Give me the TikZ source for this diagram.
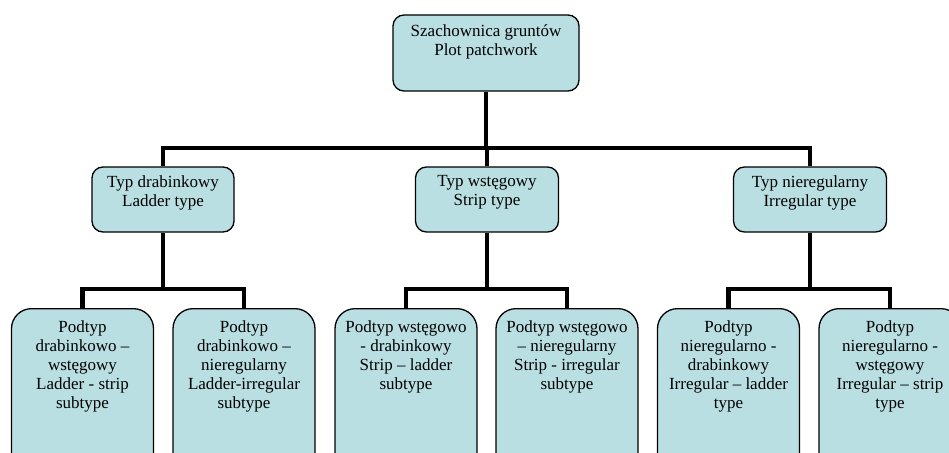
\documentclass[tikz,border=0pt]{standalone}
\usepackage{fontspec}
\setmainfont{Liberation Serif}
\definecolor{boxfill}{HTML}{B9DFE3}
\begin{document}
\begin{tikzpicture}[x=1pt,y=-1pt,
  box/.style={draw=black, line width=1.3pt, fill=boxfill, rounded corners=#1, inner sep=0pt},
  box/.default=11pt,
  txt/.style={anchor=north, align=center, inner sep=0pt, font=\fontsize{17}{19}\selectfont},
  conn/.style={line width=4.5pt}]
\useasboundingbox (0,0) rectangle (949,452);
\clip (0,0) rectangle (949,452);
% top
\node[box, minimum width=186pt, minimum height=76pt] (r) at (486,53) {};
\node[txt] at ([yshift=-10pt]r.north) {Szachownica gruntów\\Plot patchwork};
% level 2
\node[box, minimum width=142pt, minimum height=65pt] (a) at (163,199.5) {};
\node[box, minimum width=143pt, minimum height=65pt] (b) at (487,199.5) {};
\node[box, minimum width=153pt, minimum height=65pt] (c) at (810,199.5) {};
\node[txt] at ([yshift=-9pt]a.north) {Typ drabinkowy\\Ladder type};
\node[txt] at ([yshift=-9pt]b.north) {Typ wstęgowy\\Strip type};
\node[txt] at ([yshift=-9pt]c.north) {Typ nieregularny\\Irregular type};
% level 3
\foreach \n/\x in {a1/82.5, a2/244, b1/406, b2/567, c1/728.5, c2/890}
  \node[box=20pt, minimum width=142pt, minimum height=170pt, anchor=north] (\n) at (\x,308) {};
\node[txt] at ([yshift=-12pt]a1.north) {Podtyp\\drabinkowo –\\wstęgowy\\Ladder - strip\\subtype};
\node[txt] at ([yshift=-12pt]a2.north) {Podtyp\\drabinkowo –\\nieregularny\\Ladder-irregular\\subtype};
\node[txt] at ([yshift=-12pt]b1.north) {Podtyp wstęgowo\\- drabinkowy\\Strip – ladder\\subtype};
\node[txt] at ([yshift=-12pt]b2.north) {Podtyp wstęgowo\\– nieregularny\\Strip - irregular\\subtype};
\node[txt] at ([yshift=-12pt]c1.north) {Podtyp\\nieregularno -\\drabinkowy\\Irregular – ladder\\type};
\node[txt] at ([yshift=-12pt]c2.north) {Podtyp\\nieregularno -\\wstęgowy\\Irregular – strip\\type};
% connectors
\coordinate (j0) at (r.south|-0,148);
\draw[conn] (r.south) -- (j0);
\draw[conn] (a.north) |- (j0) -| (c.north);
\draw[conn] (b.north) -- (b.north|-j0);
\foreach \p in {a, b, c}{
  \coordinate (\p j) at (\p.south|-0,289);
  \draw[conn] (\p.south) -- (\p j);
  \draw[conn] (\p1.north) |- (\p j) -| (\p2.north);
}
\end{tikzpicture}
\end{document}
